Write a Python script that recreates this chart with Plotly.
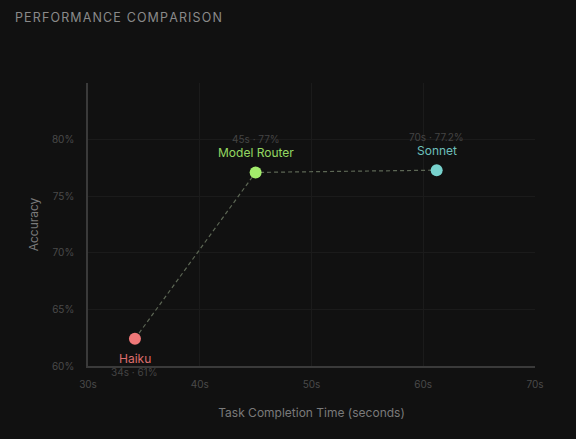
import plotly.graph_objects as go

# models and where their points sit on the chart
models = ["Haiku", "Model Router", "Sonnet"]
time_s = [34.2, 45.0, 61.2]
accuracy = [62.4, 77.1, 77.3]
# text shown next to each point
value_labels = ["34s · 61%", "45s · 77%", "70s · 77.2%"]
colors = ["#f07878", "#a3ec6c", "#78d2cd"]
label_below = [True, False, False]

x_ticks = [30, 40, 50, 60, 70]
x_tick_text = ["30s", "40s", "50s", "60s", "70s"]
y_ticks = [60, 65, 70, 75, 80]
y_tick_text = ["60%", "65%", "70%", "75%", "80%"]

BG = "#111111"
FONT = "Inter, Roboto, sans-serif"

fig = go.Figure()

# dashed connector between the models
fig.add_trace(go.Scatter(x=time_s, y=accuracy, mode="lines",
                         line=dict(color="#5d6755", width=1.2, dash="4px,3px"),
                         hoverinfo="skip", showlegend=False))

fig.add_trace(go.Scatter(x=time_s, y=accuracy, mode="markers",
                         marker=dict(size=12, color=colors, line=dict(width=0)),
                         hoverinfo="skip", showlegend=False))

for name, x, y, val, c, below in zip(models, time_s, accuracy, value_labels, colors, label_below):
    sign = -1 if below else 1
    fig.add_annotation(x=x, y=y, text=name, showarrow=False,
                       font=dict(family=FONT, size=12, color=c),
                       yshift=sign * 20, opacity=0.9)
    fig.add_annotation(x=x, y=y, text=val, showarrow=False,
                       font=dict(family=FONT, size=10, color="#444444"),
                       yshift=sign * 33)

title_txt = "\u200a".join("PERFORMANCE COMPARISON")
fig.add_annotation(xref="paper", yref="paper", x=-75 / 447, y=1 + 66 / 283,
                   xanchor="left", yanchor="middle", text=title_txt, showarrow=False,
                   font=dict(family=FONT, size=12.5, color="#8a8a8a"))

fig.update_xaxes(range=[30, 70], tickmode="array", tickvals=x_ticks, ticktext=x_tick_text,
                 showline=True, linecolor="#3a3a3a", linewidth=1.5,
                 showgrid=True, gridcolor="#1b1b1b", gridwidth=1, zeroline=False,
                 ticks="outside", ticklen=8, tickcolor=BG,
                 tickfont=dict(family=FONT, size=10, color="#4a4a4a"),
                 title=dict(text="Task Completion Time (seconds)", standoff=20,
                            font=dict(family=FONT, size=12, color="#7a7a7a")))
fig.update_yaxes(range=[60, 85], tickmode="array", tickvals=y_ticks, ticktext=y_tick_text,
                 showline=True, linecolor="#3a3a3a", linewidth=1.5,
                 showgrid=True, gridcolor="#1b1b1b", gridwidth=1, zeroline=False,
                 ticks="outside", ticklen=10, tickcolor=BG,
                 tickfont=dict(family=FONT, size=10, color="#4a4a4a"),
                 title=dict(text="Accuracy", standoff=11,
                            font=dict(family=FONT, size=12, color="#7a7a7a")))

fig.update_layout(width=576, height=439, paper_bgcolor=BG, plot_bgcolor=BG,
                  margin=dict(l=88, r=41, t=83, b=73), showlegend=False)

fig.write_html("out.html", config={"displayModeBar": False},
               post_script="document.body.style.margin='0';document.body.style.background='#111111';")
